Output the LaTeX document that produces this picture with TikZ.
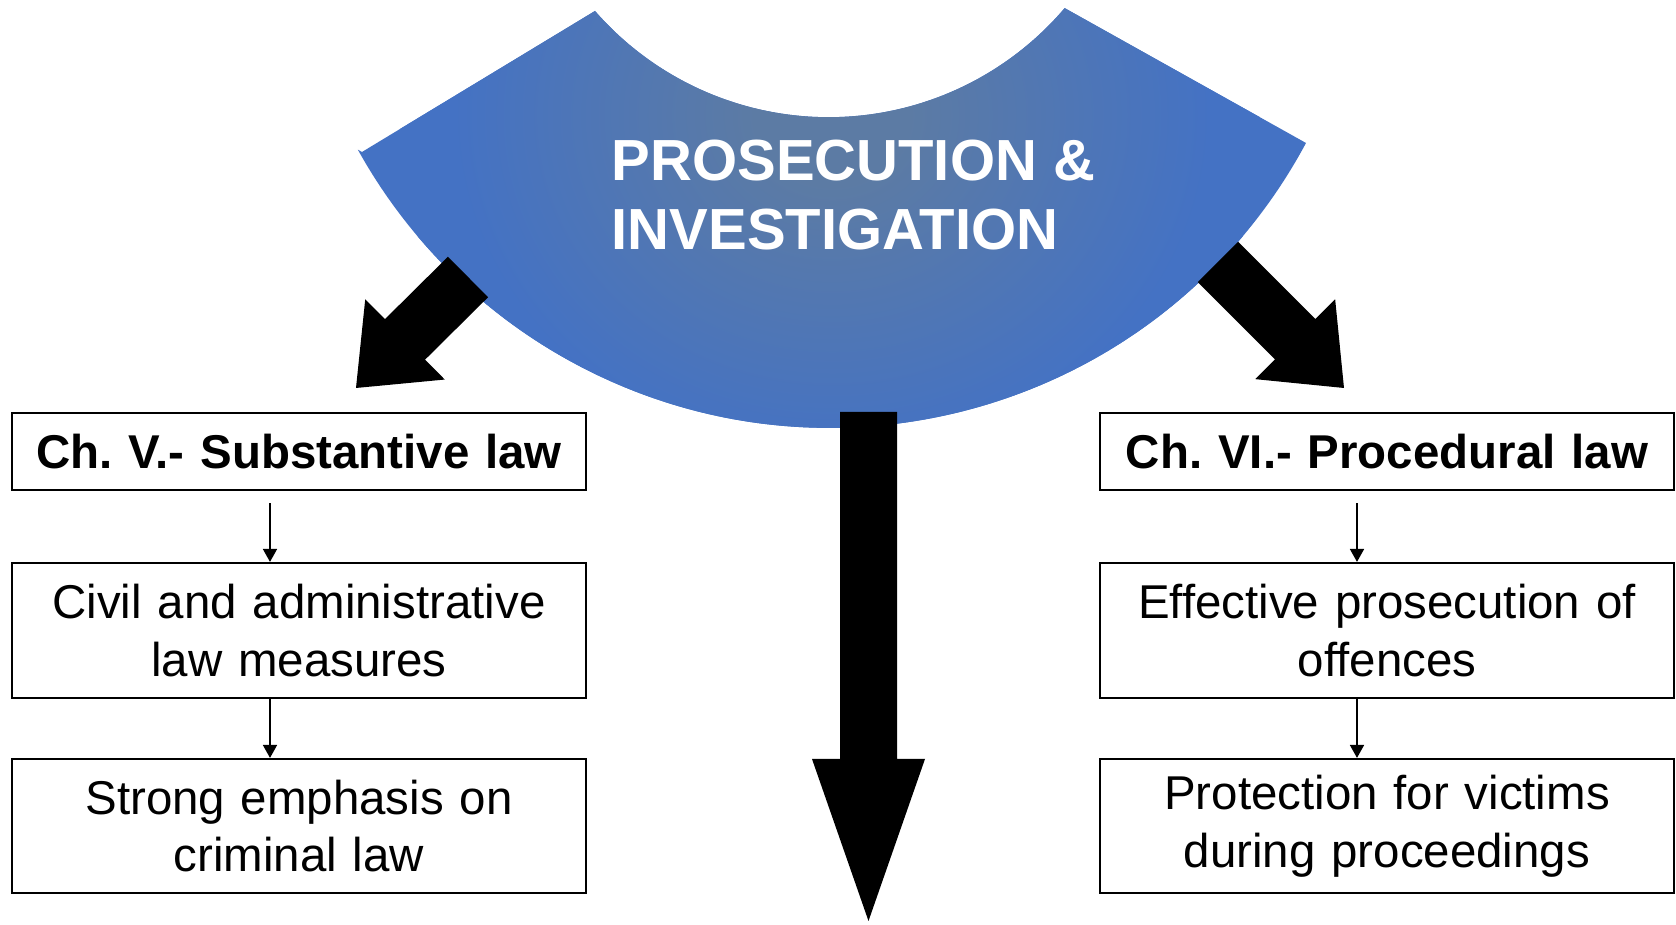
\documentclass[tikz,border=0pt]{standalone}
\usepackage{fontspec}
\setmainfont{Liberation Sans}
\frenchspacing
\usetikzlibrary{
  calc
  , positioning
  , arrows.meta
}
\definecolor{blueEdge}{RGB}{68,114,196}
\definecolor{blueMid}{RGB}{92,123,164}
\pgfdeclareradialshading{blueglow}{\pgfpoint{0bp}{0bp}}{
  color(0bp)=(blueMid); color(4bp)=(blueMid); color(20bp)=(blueEdge); color(50bp)=(blueEdge)}

\begin{document}
\begin{tikzpicture}
      \newcommand\fatArrow[3]{
        \coordinate (hb) at ($ (#2)!#3!(#1) $);
        \fill
        ($ (#1)!\ShaftW!90:(#2) $) -- ($ (hb)!\ShaftW!90:(#2) $)
        -- ($ (hb)!\HeadW!90:(#2) $) -- (#2)
        -- ($ (hb)!\HeadW!-90:(#2) $) -- ($ (hb)!\ShaftW!-90:(#2) $)
        -- ($ (#1)!\ShaftW!-90:(#2) $) -- cycle;
      }

      \def \ShaftW {0.285cm}
      \def \HeadW {0.565cm}
      \tikzstyle{law box}=[draw
          , line width=0.6pt
          , minimum width=5.74cm
          , text width=5.6cm
          , align=center
          , inner sep=0pt
          , font=\fontsize{13.5}{16.4}\selectfont]
      \tikzstyle{law title}=[law box
          , minimum height=0.77cm
          , font=\bfseries\fontsize{13.5}{16.4}\selectfont]
      \tikzstyle{thin arrow}=[-{Triangle[length=1.3mm,width=1.4mm]}, line width=0.5pt]

      \useasboundingbox (0,0) rectangle (16.76,-9.25);

      % the blue block arc
      \path [fill=blueEdge
          , path picture={
            \shade [shading=blueglow] (8.3,-1.15) circle (4.3cm);
          }]
        (3.62,-1.52) -- (5.95,-0.11)
        arc [start angle=221.1, end angle=319.6, radius=3.1]
        -- (13.06,-1.43)
        arc [start angle=331.8, end angle=209, radius=5.4]
        -- cycle;
      \node [anchor=base west
          , align=left
          , text=white
          , inner sep=0pt
          , font=\bfseries\fontsize{16.5}{19.9}\selectfont
        ] (prosec) at (6.11,-2.50) {PROSECUTION \&\\INVESTIGATION};

      % left column
      \node [law title] (chV) at (2.99,-4.515) {Ch. V.- Substantive law};
      \node [law box, minimum height=1.35cm]
        (civil) at (2.99,-6.305) {Civil and administrative\\law measures};
      \node [law box, minimum height=1.34cm]
        (criminal) at (2.99,-8.26) {Strong emphasis on\\criminal law};

      % right column
      \node [law title] (chVI) at (13.87,-4.515) {Ch. VI.- Procedural law};
      \node [law box, minimum height=1.35cm]
        (effective) at (13.87,-6.305) {Effective prosecution of\\offences};
      \node [law box, minimum height=1.34cm]
        (victims) at (13.87,-8.26) {Protection for victims\\during proceedings};

      \draw [thin arrow] ([xshift=-2.9mm,yshift=-1.2mm]chV.south) -- ([xshift=-2.9mm]civil.north);
      \draw [thin arrow] ([xshift=-2.9mm]civil.south) -- ([xshift=-2.9mm]criminal.north);
      \draw [thin arrow] ([xshift=-3mm,yshift=-1.2mm]chVI.south) -- ([xshift=-3mm]effective.north);
      \draw [thin arrow] ([xshift=-3mm]effective.south) -- ([xshift=-3mm]victims.north);

      % big arrows
      \coordinate (leftStart) at (4.68,-2.77);
      \coordinate (leftTip) at (3.56,-3.88);
      \coordinate (rightStart) at (12.18,-2.62);
      \coordinate (rightTip) at (13.44,-3.88);
      \coordinate (downStart) at (8.685,-4.12);
      \coordinate (downTip) at (8.685,-9.21);

      \fatArrow{leftStart}{leftTip}{0.69cm}
      \fatArrow{rightStart}{rightTip}{0.69cm}
      \fatArrow{downStart}{downTip}{1.62cm}

\end{tikzpicture}
\end{document}
